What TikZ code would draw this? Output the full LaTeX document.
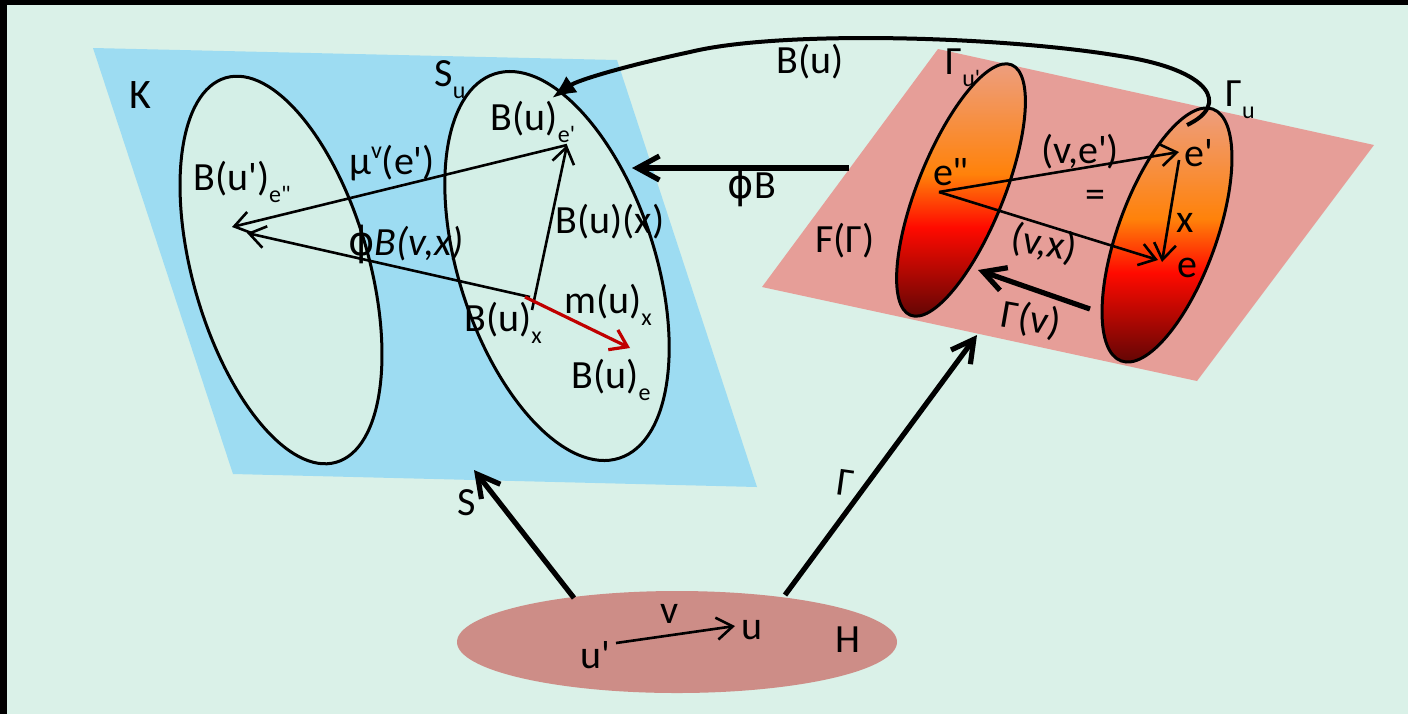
\documentclass[tikz,border=0pt]{standalone}
\usepackage{fontspec}
\setmainfont{Carlito}[Ligatures=TeXOff]
\newfontfamily\phifont{DejaVu Sans}
\usetikzlibrary{arrows.meta,positioning}

\definecolor{bgmint}{RGB}{218,241,232}
\definecolor{planeblue}{RGB}{157,220,242}
\definecolor{planepink}{RGB}{230,158,152}
\definecolor{hfill}{RGB}{205,141,135}
\definecolor{sheetmint}{RGB}{212,239,231}
\definecolor{mapred}{RGB}{192,0,0}
\definecolor{gdark}{RGB}{85,5,5}
\definecolor{gred}{RGB}{255,10,0}
\definecolor{gorange}{RGB}{255,130,10}
\definecolor{gpeach}{RGB}{236,160,135}

\pgfdeclareverticalshading{fibreshade}{100bp}{color(0bp)=(gdark); color(25bp)=(gdark); color(43bp)=(gred); color(53bp)=(gorange); color(75bp)=(gpeach); color(100bp)=(gpeach)}

\newcommand{\lowtx}[1]{\raisebox{-6pt}{\fontsize{12}{12}\selectfont #1}}
\newcommand{\hightx}[1]{\raisebox{8pt}{\fontsize{12}{12}\selectfont #1}}

\begin{document}
\begin{tikzpicture}[x=0.5pt,y=-0.5pt,
    lbl/.style={inner sep=0pt, font=\fontsize{20}{22}\selectfont},
    rim/.style={line width=1.5pt},
    thinarr/.style={line width=1.3pt, -{Straight Barb[length=8pt,width=11pt]}},
    thickarr/.style={line width=2.6pt, -{Straight Barb[length=11pt,width=12pt]}}]
    \useasboundingbox (0,0) rectangle (1408,714);

    % Frame and background
    \fill[black] (0,0) rectangle (1408,714);
    \fill[bgmint] (7,5) rectangle (1408,714);

    % The two planes
    \fill[planeblue] (93,48) -- (617,60) -- (757,487) -- (233,474) -- cycle;
    \fill[planepink] (938,49) -- (1374,145) -- (1197,381) -- (762,287) -- cycle;

    % Sheets in K
    \draw[rim, fill=sheetmint, rotate around={16:(281,270)}] (281,270) ellipse (88 and 200);
    \draw[rim, fill=sheetmint, rotate around={18:(557,266)}] (557,266) ellipse (98 and 202);

    % Fibres in F(Gamma)
    \shadedraw[rim, shading=fibreshade, rotate around={-22:(961,190)}] (961,190) ellipse (43 and 135);
    \shadedraw[rim, shading=fibreshade, rotate around={-20:(1167,235)}] (1167,235) ellipse (49 and 134);

    % Base H
    \fill[hfill] (677,642) ellipse (220 and 51);

    % Points
    \coordinate (Bep) at (567,145);
    \coordinate (Bepp) at (232,227);
    \coordinate (Bepp2) at (247,233);
    \coordinate (Bx) at (530,297);
    \coordinate (Bxlow) at (532,310);
    \coordinate (Bxr) at (525,297);
    \coordinate (Be) at (630,348);
    \coordinate (epp) at (939,192);
    \coordinate (ep) at (1179,152);
    \coordinate (ep2) at (1179,160);
    \coordinate (e) at (1162,262);
    \coordinate (evx) at (1158,260);
    \coordinate (gvs) at (1090,309);
    \coordinate (gve) at (978,270);
    \coordinate (phis) at (849,168);
    \coordinate (phie) at (632,168);
    \coordinate (bus) at (1187,125);
    \coordinate (bue) at (552,98);
    \coordinate (vs) at (616,643);
    \coordinate (ve) at (735,626);
    \coordinate (Sfoot) at (574,598);
    \coordinate (Stip) at (474,470);
    \coordinate (Gfoot) at (785,595);
    \coordinate (Gtip) at (977,335);

    % Maps inside K
    \draw[thinarr] (Bep) -- (Bepp);
    \draw[thinarr] (Bx) -- (Bepp2);
    \draw[thinarr] (Bxlow) -- (Bep);
    \draw[thinarr, mapred, line width=1.6pt] (Bxr) -- (Be);

    % Maps inside F(Gamma)
    \draw[thinarr] (epp) -- (ep);
    \draw[thinarr] (epp) -- (evx);
    \draw[thinarr] (ep2) -- (e);
    \draw[thickarr] (gvs) -- (gve);

    % Maps between the pieces
    \draw[thickarr] (phis) -- (phie);
    \draw[thickarr] (Sfoot) -- (Stip);
    \draw[thickarr] (Gfoot) -- (Gtip);
    \draw[thinarr] (vs) -- (ve);
    \draw[line width=2pt, -{Latex[length=12pt,width=10pt]}] (bus)
        .. controls (1230,105) and (1212,70) .. (1120,56)
        .. controls (1000,36) and (780,30) .. (690,52)
        .. controls (625,66) and (578,80) .. (bue);

    % Labels in K
    \node[lbl, font=\fontsize{21}{22}\selectfont] (K) at (140,95) {K};
    \node[lbl] (Su) at (450,80) {S\lowtx{u}};
    \node[lbl] (lBep) at (533,122) {B(u)\lowtx{e'}};
    \node[lbl] (lBepp) at (242,182) {B(u')\lowtx{e"}};
    \node[lbl] (lmu) at (392,163) {μ\hightx{v}(e')};
    \node[lbl] (lphiB) at (406,244) {{\phifont ϕ}\textit{B(v,x)}};
    \node[lbl] (lBux) at (610,222) {B(u)(x)};
    \node[lbl] (lBx) at (503,323) {B(u)\lowtx{x}};
    \node[lbl] (lmux) at (608,305) {m(u)\lowtx{x}};
    \node[lbl] (lBe) at (611,380) {B(u)\lowtx{e}};

    % Labels in F(Gamma)
    \node[lbl] (lGup) at (963,68) {Γ\lowtx{u'}};
    \node[lbl] (lGu) at (1240,100) {Γ\lowtx{u}};
    \node[lbl] (lepp) at (951,172) {e"};
    \node[lbl] (lvep) at (1080,152) {(v,e')};
    \node[lbl] (lep) at (1199,153) {e'};
    \node[lbl] (leq) at (1095,199) {=};
    \node[lbl] (lx) at (1185,223) {x};
    \node[lbl, rotate=-10] (lvx) at (1044,244) {(v,x)};
    \node[lbl] (le) at (1187,268) {e};
    \node[lbl] (lFG) at (845,241) {F(Γ)};
    \node[lbl, rotate=-10] (lGv) at (1031,320) {Γ(v)};

    % Labels of the maps and of H
    \node[lbl] (lphi) at (752,187) {{\phifont ϕ}B};
    \node[lbl] (lbu) at (810,62) {B(u)};
    \node[lbl] (lS) at (467,503) {S};
    \node[lbl, rotate=-8] (lG) at (846,483) {Γ};
    \node[lbl] (lup) at (595,655) {u'};
    \node[lbl] (lu) at (752,630) {u};
    \node[lbl] (lv) at (670,614) {v};
    \node[lbl] (lH) at (848,640) {H};
\end{tikzpicture}
\end{document}
